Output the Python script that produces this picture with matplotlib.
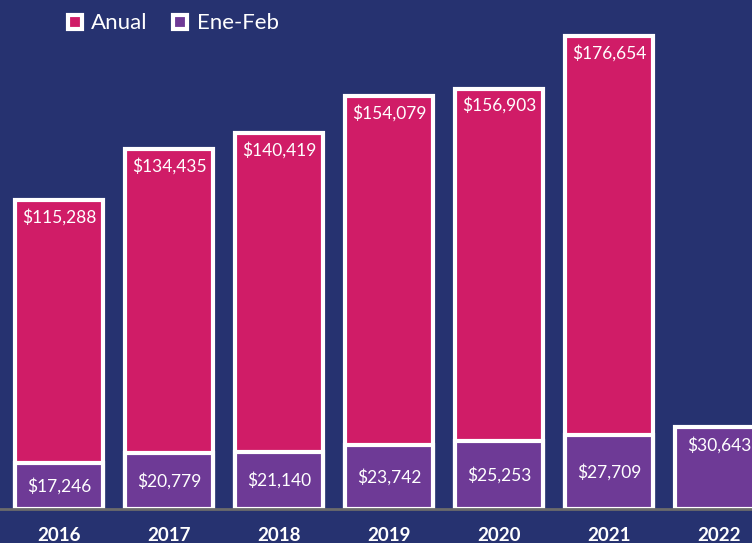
import matplotlib.pyplot as plt
from matplotlib.lines import Line2D
import numpy as np

# data
years = ['2016', '2017', '2018', '2019', '2020', '2021', '2022']
anual = [115288, 134435, 140419, 154079, 156903, 176654, None]
ene_feb = [17246, 20779, 21140, 23742, 25253, 27709, 30643]

bg = '#263270'
c_anual = '#D01C67'
c_ene = '#6E3A96'

plt.rcParams['font.family'] = ['Lato', 'DejaVu Sans']

fig = plt.figure(figsize=(7.52, 5.43), dpi=100, facecolor=bg)
ax = fig.add_axes([0, 1 - 509 / 543, 1, 509 / 543])
ax.set_facecolor(bg)

x = np.arange(len(years))
width = 0.8

# annual bars behind, Jan-Feb bars in front
for i, v in enumerate(anual):
    if v is None:
        continue
    ax.bar(x[i], v, width, color=c_anual, edgecolor='white', linewidth=3, zorder=2)
    ax.annotate('${:,}'.format(v), (x[i], v), xytext=(0, -17), textcoords='offset pixels',
                ha='center', va='center', color='white', fontsize=12.5, zorder=5)

ax.bar(x, ene_feb, width, color=c_ene, edgecolor='white', linewidth=3, zorder=3)
for i, v in enumerate(ene_feb):
    if anual[i] is None:
        ax.annotate('${:,}'.format(v), (x[i], v), xytext=(0, -18), textcoords='offset pixels',
                    ha='center', va='center', color='white', fontsize=12.5, zorder=5)
    else:
        ax.text(x[i], v / 2, '${:,}'.format(v), ha='center', va='center',
                color='white', fontsize=12.5, zorder=5)

ax.set_xlim(-0.536, 6.3)
ax.set_ylim(0, 190000)
ax.set_xticks(x)
ax.set_xticklabels(years, color='white', fontsize=13.5, fontweight='bold')
ax.tick_params(axis='x', length=0, pad=13)
ax.set_yticks([])
for s in ['top', 'right', 'left']:
    ax.spines[s].set_visible(False)
ax.spines['bottom'].set_color('#6b6b6b')
ax.spines['bottom'].set_linewidth(2)
ax.spines['bottom'].set_zorder(4)

handles = [Line2D([], [], marker='s', linestyle='', markersize=10.5, markerfacecolor=c_anual,
                  markeredgecolor='white', markeredgewidth=3),
           Line2D([], [], marker='s', linestyle='', markersize=10.5, markerfacecolor=c_ene,
                  markeredgecolor='white', markeredgewidth=3)]
fig.legend(handles, ['Anual', 'Ene-Feb'], loc='upper left', bbox_to_anchor=(0.058, 1.012),
           ncol=2, frameon=False, labelcolor='white', fontsize=16, handletextpad=0.25,
           columnspacing=0.95, handlelength=1.0)

fig.savefig('out.png', dpi=100, facecolor=bg)
